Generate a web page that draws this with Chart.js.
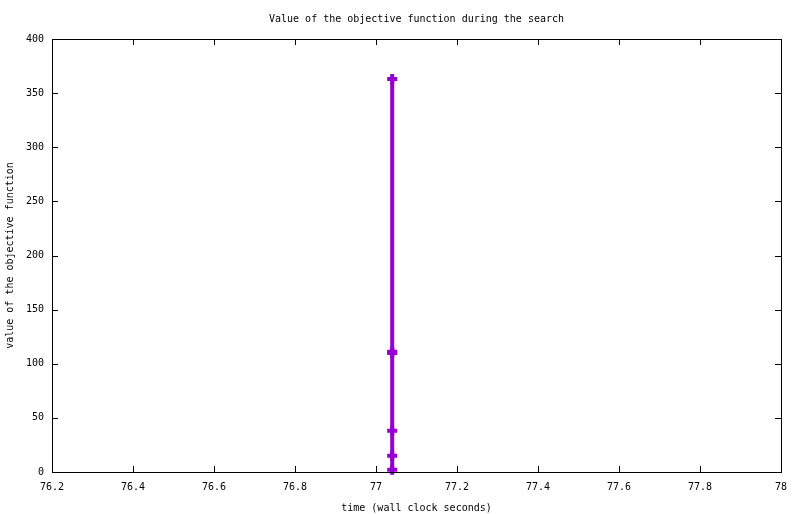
<!DOCTYPE html>
<html lang="en">
<head>
    <meta charset="UTF-8">
    <title>Value of the objective function during the search</title>
    <script src="https://cdn.jsdelivr.net/npm/chart.js"></script>
    <style>
        body { margin: 0; background: #ffffff; }
        .chart-box { width: 800px; height: 514px; }
    </style>
</head>
<body>
    <div class="chart-box">
        <canvas id="objChart"></canvas>
    </div>

    <script>
        // values
        const timeSeconds = [77.04, 77.04, 77.04, 77.04, 77.04, 77.04];
        const objectiveValues = [363, 111, 110, 38, 15, 2];
        const xTicks = [76.2, 76.4, 76.6, 76.8, 77, 77.2, 77.4, 77.6, 77.8, 78];
        const yTicks = [0, 50, 100, 150, 200, 250, 300, 350, 400];

        const FONT = { family: "'DejaVu Sans Mono', 'Liberation Mono', monospace", size: 10 };

        // gnuplot style frame with ticks drawn inwards on all four sides
        const framePlugin = {
            id: 'frame',
            afterLayout(chart) {
                // center the title over the plot area, like gnuplot does
                const t = chart.titleBlock;
                if (t) {
                    t.left = chart.chartArea.left;
                    t.right = chart.chartArea.right;
                    t.width = t.right - t.left;
                }
            },
            afterDraw(chart) {
                const { ctx, chartArea: a, scales } = chart;
                const len = 6;
                ctx.save();
                ctx.strokeStyle = '#000';
                ctx.lineWidth = 1;
                ctx.beginPath();
                xTicks.forEach(v => {
                    const x = Math.round(scales.x.getPixelForValue(v)) + 0.5;
                    ctx.moveTo(x, a.bottom); ctx.lineTo(x, a.bottom - len);
                    ctx.moveTo(x, a.top); ctx.lineTo(x, a.top + len);
                });
                yTicks.forEach(v => {
                    const y = Math.round(scales.y.getPixelForValue(v)) + 0.5;
                    ctx.moveTo(a.left, y); ctx.lineTo(a.left + len, y);
                    ctx.moveTo(a.right, y); ctx.lineTo(a.right - len, y);
                });
                ctx.stroke();
                ctx.strokeRect(Math.round(a.left) + 0.5, Math.round(a.top) + 0.5,
                    Math.round(a.right - a.left), Math.round(a.bottom - a.top));
                ctx.restore();
            }
        };

        new Chart(document.getElementById('objChart'), {
            type: 'scatter',
            data: {
                datasets: [{
                    data: timeSeconds.map((t, i) => ({ x: t, y: objectiveValues[i] })),
                    showLine: true,
                    borderColor: '#9400d3',
                    backgroundColor: '#9400d3',
                    borderWidth: 4,
                    pointStyle: 'cross',
                    pointRadius: 5,
                    pointBorderWidth: 4,
                    clip: false
                }]
            },
            options: {
                responsive: true,
                maintainAspectRatio: false,
                animation: false,
                layout: { padding: { top: 0, right: 19, left: 0, bottom: 0 } },
                plugins: {
                    legend: { display: false },
                    tooltip: { enabled: false },
                    title: {
                        display: true,
                        text: 'Value of the objective function during the search',
                        color: '#000',
                        font: { ...FONT, weight: 'normal' },
                        padding: { top: 13, bottom: 14 }
                    }
                },
                scales: {
                    x: {
                        type: 'linear',
                        min: 76.2,
                        max: 78,
                        afterBuildTicks: s => { s.ticks = xTicks.map(v => ({ value: v })); },
                        afterFit: s => { s.height = 42; },
                        grid: { display: false, drawTicks: false },
                        border: { display: false },
                        ticks: {
                            color: '#000',
                            font: FONT,
                            padding: 9,
                            maxRotation: 0,
                            callback: v => String(v)
                        },
                        title: {
                            display: true,
                            text: 'time (wall clock seconds)',
                            color: '#000',
                            font: FONT,
                            padding: { top: 4, bottom: 0 }
                        }
                    },
                    y: {
                        min: 0,
                        max: 400,
                        afterBuildTicks: s => { s.ticks = yTicks.map(v => ({ value: v })); },
                        afterFit: s => { s.width = 52; },
                        grid: { display: false, drawTicks: false },
                        border: { display: false },
                        ticks: {
                            color: '#000',
                            font: FONT,
                            padding: 8
                        },
                        title: {
                            display: true,
                            text: 'value of the objective function',
                            color: '#000',
                            font: FONT,
                            padding: { top: 4, bottom: 0 }
                        }
                    }
                }
            },
            plugins: [framePlugin]
        });
    </script>
</body>
</html>
